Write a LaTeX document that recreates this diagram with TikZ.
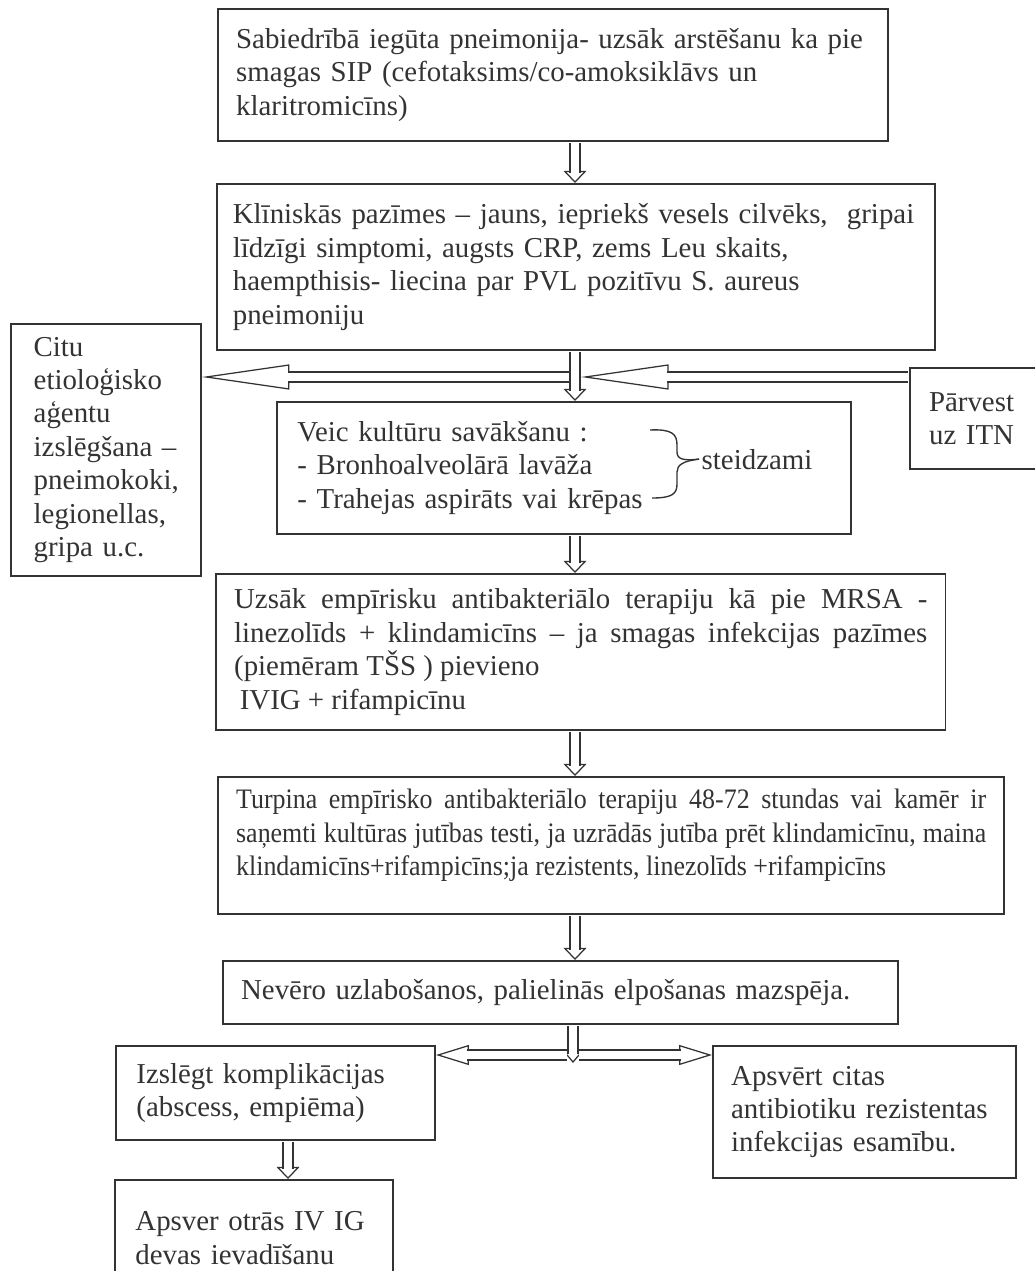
\documentclass[tikz,border=0pt]{standalone}
\usepackage{fontspec}
\setmainfont{Liberation Serif}
\newfontfamily\narrowserif{Liberation Serif}[FakeStretch=0.92]
\usetikzlibrary{arrows.meta}
\definecolor{ink}{gray}{0.2}
\tolerance=10000
\hbadness=10000
\hyphenpenalty=10000
\tikzset{
  stepbox/.style={draw=ink, line width=0.85pt, anchor=north west, align=left,
    inner xsep=8pt, inner ysep=3pt, text=ink, font=\fontsize{12.7}{14.7}\selectfont},
  hollow/.style n args={3}{draw=ink, line width=0.55pt, shorten <=0.4pt,
    -{Triangle[length=#1, width=#2, fill=white]},
    postaction={draw=ink, -, double=white, double distance=3.85pt, shorten >=#3}},
  vlink/.style={hollow={5.3pt}{10pt}{4.5pt}},
  forklink/.style={hollow={4.8pt}{8pt}{4pt}},
  hlinktop/.style={hollow={38.5pt}{11pt}{37.7pt}},
  hlinkbot/.style={hollow={14.5pt}{8.8pt}{13.7pt}},
}
\begin{document}
\begin{tikzpicture}[x=0.44pt, y=-0.44pt]
\useasboundingbox (0,0) rectangle (1034,1271);
\node[stepbox, text width=279pt, minimum height=58.08pt] (sip) at (217,8) {Sabiedrībā iegūta pneimonija- uzsāk arstēšanu ka pie\\smagas SIP (cefotaksims/co-amoksiklāvs un\\klaritromicīns)};
\node[stepbox, inner xsep=7pt, text width=302pt, minimum height=73.04pt] (pazimes) at (216,183) {Klīniskās pazīmes – jauns, iepriekš vesels cilvēks,\ \ gripai\\līdzīgi simptomi, augsts CRP, zems Leu skaits,\\haempthisis- liecina par PVL pozitīvu S. aureus\\pneimoniju};
\node[stepbox, inner xsep=10pt, text width=63.6pt, minimum height=110.88pt] (citu) at (10,323) {Citu\\etioloģisko\\aģentu\\izslēgšana~–\\pneimokoki,\\legionellas,\\gripa u.c.};
\node[stepbox, inner xsep=8.4pt, text width=50pt, minimum height=44.44pt] (itn) at (909,367) {Pārvest\\uz ITN};
\node[stepbox, inner xsep=9pt, text width=234.6pt, minimum height=58.08pt] (kultura) at (276,401) {Veic kultūru savākšanu :\\- Bronhoalveolārā lavāža\\- Trahejas aspirāts vai krēpas};
\node[text=ink, font=\fontsize{12.7}{14.7}\selectfont, inner sep=1pt, anchor=base west] (steid) at (699,469) {steidzami};
\node[stepbox, align=justify, text width=305pt, minimum height=68.64pt] (terapija) at (215,573) {Uzsāk empīrisku antibakteriālo terapiju kā pie MRSA -\linebreak linezolīds + klindamicīns – ja smagas infekcijas pazīmes\linebreak (piemēram TŠS ) pievieno\newline\hspace*{2.5pt}IVIG + rifampicīnu};
\node[stepbox, align=justify, font=\narrowserif\fontsize{12.4}{14.7}\selectfont, text width=330pt, minimum height=60.28pt, text depth=41pt] (turpina) at (217,776) {Turpina empīrisko antibakteriālo terapiju 48-72 stundas vai kamēr ir\linebreak saņemti kultūras jutības testi, ja uzrādās jutība prēt klindamicīnu, maina\linebreak klindamicīns+rifampicīns;ja rezistents, linezolīds +rifampicīns};
\node[stepbox, text width=281pt, minimum height=27.72pt] (nevero) at (222,960) {Nevēro uzlabošanos, palielinās elpošanas mazspēja.};
\node[stepbox, inner xsep=9pt, text width=122.4pt, minimum height=41.36pt] (izslegt) at (115,1045) {Izslēgt komplikācijas\\(abscess, empiēma)};
\node[stepbox, text width=117.3pt, minimum height=58.08pt] (apsvert) at (712,1045) {Apsvērt citas\\antibiotiku rezistentas\\infekcijas esamību.};
\node[stepbox, inner xsep=9pt, text width=104.3pt, minimum height=51pt] (apsver) at (114,1179) {Apsver otrās IV IG\\devas ievadīšanu};
% brace
\draw[ink, line width=0.6pt] (650,430) .. controls (672,429) and (677,434) .. (677,445) -- (677,452) .. controls (677,459) and (683,461) .. (steid.west);
\draw[ink, line width=0.6pt] (652,498) .. controls (672,498) and (677,494) .. (677,484) -- (677,472) .. controls (677,465) and (683,461) .. (steid.west);
% arrows
\coordinate (axis) at (575,0);
\coordinate (jl) at (570,377);
\coordinate (jr) at (581,377);
\coordinate (fork) at (573,1063);
\coordinate (fl) at (568,1055);
\coordinate (fr) at (578,1055);
\coordinate (laxis) at (288,0);
\draw[vlink] (sip.south -| axis) -- (pazimes.north -| axis);
\draw[vlink] (pazimes.south -| axis) -- (kultura.north -| axis);
\draw[hlinktop] (jl) -- (citu.east |- jl);
\draw[hlinktop] (itn.west |- jr) -- (jr);
\draw[vlink] (kultura.south -| axis) -- (terapija.north -| axis);
\draw[vlink] (terapija.south -| axis) -- (turpina.north -| axis);
\draw[vlink] (turpina.south -| axis) -- (nevero.north -| axis);
\draw[forklink] (nevero.south -| fork) -- (fork);
\draw[hlinkbot] (fl) -- (izslegt.east |- fl);
\draw[hlinkbot] (fr) -- (apsvert.west |- fr);
\draw[vlink] (izslegt.south -| laxis) -- (apsver.north -| laxis);
\end{tikzpicture}
\end{document}
